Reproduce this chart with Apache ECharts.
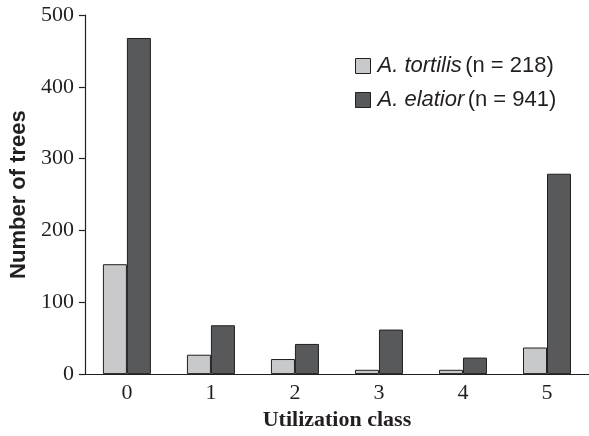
<!DOCTYPE html>
<html><head><meta charset="utf-8">
<script src="https://cdn.jsdelivr.net/npm/echarts@6/dist/echarts.min.js"></script>
<style>html,body{margin:0;padding:0;background:#fff}#c{width:589px;height:436px}</style>
</head><body><div id="c"></div>
<script>
const categories = ['0','1','2','3','4','5'];
const tortilis = [153, 27, 21, 6, 6, 37];
const elatior = [468, 68, 42, 62, 23, 279];
const yTicks = [0, 100, 200, 300, 400, 500];
const seriesNames = ['A. tortilis', 'A. elatior'];
const seriesN = ['218', '941'];

const chart = echarts.init(document.getElementById('c'));
const ink = '#231f20';
chart.setOption({
  animation: false,
  grid: { left: 80, right: -2, top: 15, bottom: 53, containLabel: false },
  legend: {
    left: 350, top: 50, orient: 'vertical', itemGap: 12,
    itemWidth: 15, itemHeight: 15, icon: 'rect',
    data: seriesNames,
    itemStyle: { borderColor: ink, borderWidth: 1 },
    formatter: function (name) {
      const i = seriesNames.indexOf(name);
      return '{i|' + name + '} {n|(n = ' + seriesN[i] + ')}';
    },
    textStyle: {
      padding: [0, 0, 0, 2],
      rich: {
        i: { fontFamily: 'Liberation Sans', fontStyle: 'italic', fontSize: 22, lineHeight: 23, color: ink },
        n: { fontFamily: 'Liberation Sans', fontSize: 22, lineHeight: 23, color: ink }
      }
    }
  },
  xAxis: {
    type: 'category', data: categories,
    name: 'Utilization class', nameLocation: 'middle', nameGap: 30,
    nameTextStyle: { fontFamily: 'Liberation Serif', fontWeight: 'bold', fontSize: 22, color: ink },
    axisLine: { lineStyle: { color: ink, width: 1.2 } },
    axisTick: { show: false },
    axisLabel: { fontFamily: 'Liberation Serif', fontSize: 22, color: ink, margin: 8 }
  },
  yAxis: {
    type: 'value', min: 0, max: 500, interval: 100,
    name: 'Number of trees', nameLocation: 'middle', nameGap: 52, nameRotate: 90,
    nameTextStyle: { fontFamily: 'Liberation Sans', fontWeight: 'bold', fontSize: 22, color: ink },
    axisLine: { show: true, lineStyle: { color: ink, width: 1.2 } },
    axisTick: { show: true, length: 6, lineStyle: { color: ink, width: 1.2 } },
    splitLine: { show: false },
    axisLabel: {
      fontFamily: 'Liberation Serif', fontSize: 22, color: ink, margin: 11,
      formatter: function (v) { return yTicks.indexOf(v) >= 0 ? String(v) : ''; }
    }
  },
  series: [
    { name: seriesNames[0], type: 'bar', data: tortilis, barWidth: 24, barGap: '0%',
      itemStyle: { color: '#c8c9cb', borderColor: ink, borderWidth: 1 } },
    { name: seriesNames[1], type: 'bar', data: elatior, barWidth: 24, barGap: '0%',
      itemStyle: { color: '#58595b', borderColor: ink, borderWidth: 1 } }
  ]
});
</script></body></html>
